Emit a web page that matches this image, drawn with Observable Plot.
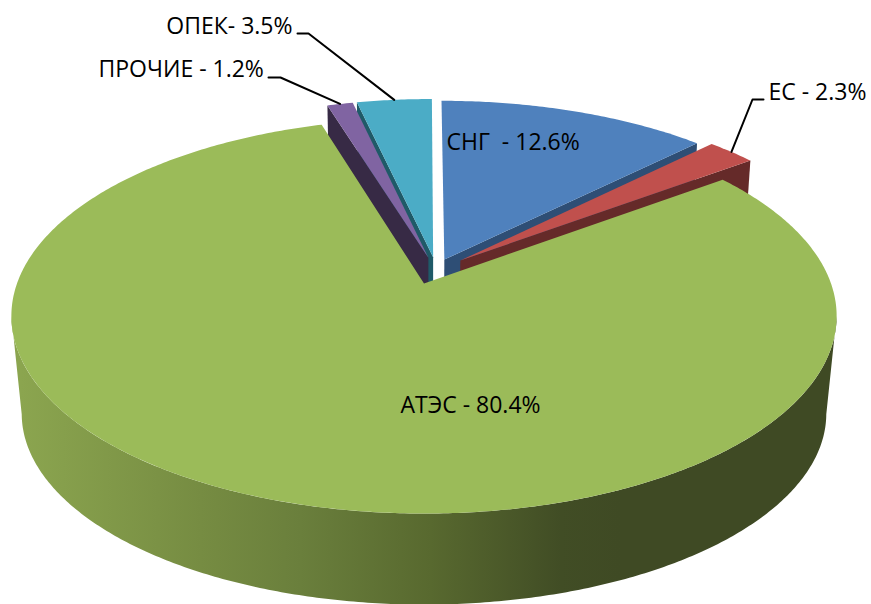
<!DOCTYPE html>
<html><head><meta charset="utf-8">
<script src="https://cdn.jsdelivr.net/npm/d3@7"></script>
<script src="https://cdn.jsdelivr.net/npm/@observablehq/plot@0.6"></script>
<style>html,body{margin:0;padding:0;background:#fff}svg{display:block}</style>
</head><body><div id="chart"></div>
<script>
// Data
const names  = ["СНГ", "ЕС", "АТЭС", "ПРОЧИЕ", "ОПЕК"];
const shares = [12.6, 2.3, 80.4, 1.2, 3.5];
const labels = ["СНГ  - 12.6%", "ЕС - 2.3%", "АТЭС - 80.4%", "ПРОЧИЕ - 1.2%", "ОПЕК- 3.5%"];

// Styles
const topColors  = ["#4f81bd", "#c0504d", "#9bbb59", "#8064a2", "#4bacc6"];
const sideColors = ["#2e4e75", "#652a29", "#5f7532", "#372a45", "#1f5a68"];

// Layout: how far each slice is pulled out, in units of the radius
const explodeU = [0.051, 0.091, 0, 0.011, 0.023];
const explodeV = [-0.127, -0.122, 0, -0.137, -0.14];
const labelX = [446, 768, 400, 98, 292];
const labelY = [142, 92, 405, 69, 26];
const labelAnchor = ["start", "start", "start", "start", "end"];
const leaderKnee = [null, [[752, 99], [763, 99]], null, [[280, 77], [268, 77]], [[308, 33], [297, 33]]];

// Perspective of the tilted disc: top face and bottom face
const view = {x0: 423.5, r: 407, c: -0.1646};
const faces = [{a: 145.6, b: 283, d: 0}, {a: 127.8, b: 391.9, d: 0.025}];
function project(u, v, z = 0) {
  const f = faces[z];
  const w = 1 + view.c * v + f.d;
  return {x: view.x0 + view.r * u / w, y: (f.a * v + f.b) / w};
}

const arcs = d3.pie().sort(null).value(d => d)(shares);
function disc(i, ang, rad = 1) {
  return [Math.sin(ang) * rad + explodeU[i], -Math.cos(ang) * rad + explodeV[i]];
}
function arcAngles(a0, a1) {
  const n = Math.max(2, Math.ceil((a1 - a0) / 0.01));
  return d3.range(n + 1).map(k => a0 + (a1 - a0) * k / n);
}
function topFace(i) {
  const {startAngle: s, endAngle: t} = arcs[i];
  const c = disc(i, 0, 0);
  return [project(c[0], c[1]), ...arcAngles(s, t).map(a => project(...disc(i, a)))];
}
function cutFace(i, ang) {
  const c = disc(i, 0, 0), p = disc(i, ang);
  return [project(c[0], c[1]), project(p[0], p[1]), project(p[0], p[1], 1), project(c[0], c[1], 1)];
}
// The front wall runs between the two points where the rim is widest on screen
function frontWall(i) {
  const t = Math.acos(view.c);
  const angs = arcAngles(t, 2 * Math.PI - t);
  return [...angs.map(a => project(...disc(i, a))), ...angs.slice().reverse().map(a => project(...disc(i, a), 1))];
}
const poly = (pts, fill) => Plot.line(pts, {x: "x", y: "y", fill, stroke: "none"});

const iBlue = 0, iRed = 1, iGreen = 2, iPurple = 3, iTeal = 4;

const wallStops = [[20, "#8ba54f"], [200, "#768c42"], [300, "#6a7f3c"], [430, "#58692f"], [560, "#414d25"], [620, "#3f4a24"]];
const gradient = () => {
  const ns = "http://www.w3.org/2000/svg";
  const defs = document.createElementNS(ns, "defs");
  const g = document.createElementNS(ns, "linearGradient");
  g.setAttribute("id", "greenSide");
  g.setAttribute("gradientUnits", "userSpaceOnUse");
  g.setAttribute("x1", 0); g.setAttribute("x2", 871);
  g.setAttribute("y1", 0); g.setAttribute("y2", 0);
  for (const [x, c] of wallStops) {
    const s = document.createElementNS(ns, "stop");
    s.setAttribute("offset", x / 871); s.setAttribute("stop-color", c);
    g.appendChild(s);
  }
  defs.appendChild(g);
  return defs;
};

function leader(i) {
  const mid = (arcs[i].startAngle + arcs[i].endAngle) / 2;
  const p = project(...disc(i, mid));
  return [p, ...leaderKnee[i].map(([x, y]) => ({x, y}))];
}

const textData = labels.map((t, i) => ({t, x: labelX[i], y: labelY[i], anchor: labelAnchor[i], name: names[i], share: shares[i]}));

const chart = Plot.plot({
  width: 871, height: 604,
  marginTop: 0, marginRight: 0, marginBottom: 0, marginLeft: 0,
  x: {domain: [0, 871], range: [0, 871], axis: null},
  y: {domain: [0, 604], range: [0, 604], axis: null},
  style: {background: "#fff"},
  marks: [
    gradient,
    poly(cutFace(iBlue, arcs[iBlue].endAngle), sideColors[iBlue]),
    poly(topFace(iBlue), topColors[iBlue]),
    poly(cutFace(iRed, arcs[iRed].endAngle), sideColors[iRed]),
    poly(topFace(iRed), topColors[iRed]),
    poly(cutFace(iTeal, arcs[iTeal].startAngle), sideColors[iTeal]),
    poly(topFace(iTeal), topColors[iTeal]),
    poly(cutFace(iPurple, arcs[iPurple].startAngle), sideColors[iPurple]),
    poly(topFace(iPurple), topColors[iPurple]),
    poly(frontWall(iGreen), "url(#greenSide)"),
    poly(topFace(iGreen), topColors[iGreen]),
    ...[iRed, iPurple, iTeal].map(i => Plot.line(leader(i), {x: "x", y: "y", stroke: "#000", strokeWidth: 2})),
    ...["start", "end"].map(anchor => Plot.text(textData.filter(d => d.anchor === anchor), {
      x: "x", y: "y", text: "t", textAnchor: anchor, lineAnchor: "middle",
      fontFamily: "Open Sans", fontSize: 23, fill: "#000"
    }))
  ]
});
document.getElementById("chart").appendChild(chart);
</script></body></html>
